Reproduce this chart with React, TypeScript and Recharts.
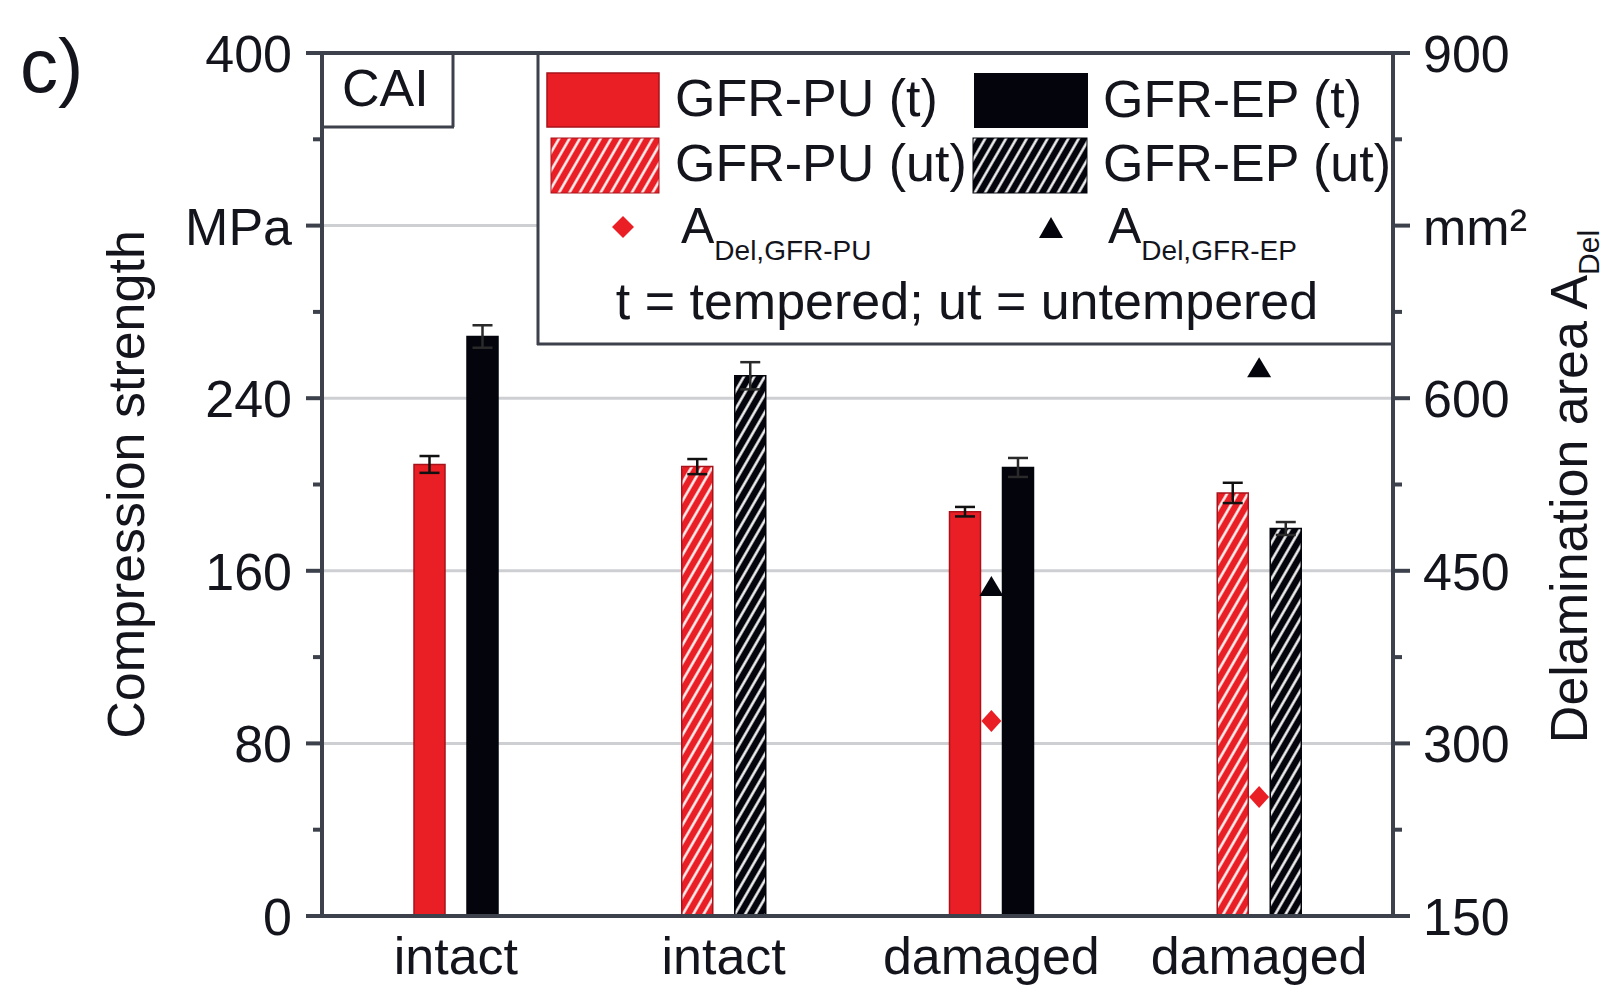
import React from 'react';
import { ComposedChart, Bar, Cell, ErrorBar, Scatter, XAxis, YAxis, CartesianGrid, ReferenceLine } from 'recharts';

// groups along the x axis
const groupKeys = ['g1', 'g2', 'g3', 'g4'];
const groupLabels = ['intact', 'intact', 'damaged', 'damaged'];
const tempered = [true, false, true, false];

// compression strength in MPa (left axis)
const puStrength = [209.3, 208.3, 187.4, 196.1];
const puStrengthErr = [3.9, 3.5, 2.2, 4.7];
const epStrength = [268.6, 250.4, 207.9, 179.6];
const epStrengthErr = [5.2, 6.3, 4.4, 3.0];

// delamination area in mm² (right axis), only for damaged samples
const puDelamination = [null, null, 319.5, 253.5];
const epDelamination = [null, null, 436, 626];

const leftTicks = [0, 40, 80, 120, 160, 200, 240, 280, 320, 360, 400];
const rightTicks = [150, 225, 300, 375, 450, 525, 600, 675, 750, 825, 900];
const gridValues = [80, 160, 240, 320];

const FONT = '"Liberation Sans", Arial, Helvetica, sans-serif';
const INK = '#13141c';
const AXIS = '#3c414b';
const RED = '#ea1f26';
const RED_EDGE = '#a8121a';
const BLACK = '#03040c';

const data = groupKeys.map((key, i) => ({
  key,
  pu: puStrength[i],
  puErr: puStrengthErr[i],
  ep: epStrength[i],
  epErr: epStrengthErr[i],
}));

const puAreaData = groupKeys
  .map((key, i) => ({ key, area: puDelamination[i] }))
  .filter((d) => d.area !== null);
const epAreaData = groupKeys
  .map((key, i) => ({ key, area: epDelamination[i] }))
  .filter((d) => d.area !== null);

const Hatch = ({ id, base }: { id: string; base: string }) => (
  <pattern id={id} patternUnits="userSpaceOnUse" width={9} height={9} patternTransform="rotate(30)">
    <rect width={9} height={9} fill={base} />
    <line x1={4.5} y1={0} x2={4.5} y2={9} stroke="#ffffff" strokeWidth={2.4} />
  </pattern>
);

const LeftTick = (props: any) => {
  const { x, y, payload } = props;
  const v = payload.value;
  const major = v % 80 === 0;
  return (
    <g>
      <line x1={x} x2={x - (major ? 16 : 9)} y1={y} y2={y} stroke={AXIS} strokeWidth={4} />
      {major && (
        <text x={x - 30} y={y} dy={19} textAnchor="end" fontSize={52} fontFamily={FONT} fill={INK}>
          {v === 320 ? 'MPa' : String(v)}
        </text>
      )}
    </g>
  );
};

const RightTick = (props: any) => {
  const { x, y, payload } = props;
  const v = payload.value;
  const major = v % 150 === 0;
  return (
    <g>
      <line x1={x} x2={x + (major ? 17 : 9)} y1={y} y2={y} stroke={AXIS} strokeWidth={4} />
      {major && (
        <text x={x + 30} y={y} dy={19} textAnchor="start" fontSize={52} fontFamily={FONT} fill={INK}>
          {v === 750 ? 'mm²' : String(v)}
        </text>
      )}
    </g>
  );
};

const BottomTick = (props: any) => {
  const { x, y, payload, index } = props;
  return (
    <text x={x} y={y + 58} textAnchor="middle" fontSize={52} fontFamily={FONT} fill={INK}>
      {groupLabels[index] ?? payload.value}
    </text>
  );
};

const LeftTitle = (props: any) => {
  const vb = props.viewBox;
  const cx = vb.x + 144;
  const cy = vb.y + vb.height / 2;
  return (
    <text x={cx} y={cy} transform={`rotate(-90, ${cx}, ${cy})`} textAnchor="middle" fontSize={52} fontFamily={FONT} fill={INK}>
      Compression strength
    </text>
  );
};

const RightTitle = (props: any) => {
  const vb = props.viewBox;
  const cx = vb.x + 194;
  const cy = vb.y + vb.height / 2 + 2;
  return (
    <text x={cx} y={cy} transform={`rotate(-90, ${cx}, ${cy})`} textAnchor="middle" fontSize={52} fontFamily={FONT} fill={INK}>
      <tspan>Delamination area A</tspan>
      <tspan fontSize={30} dy={12}>Del</tspan>
    </text>
  );
};

const Diamond = (props: any) => {
  const { cx, cy } = props;
  if (cx == null || cy == null) return null;
  return <polygon points={`${cx},${cy - 11} ${cx + 10},${cy} ${cx},${cy + 11} ${cx - 10},${cy}`} fill={RED} />;
};

const Triangle = (props: any) => {
  const { cx, cy } = props;
  if (cx == null || cy == null) return null;
  return <polygon points={`${cx},${cy - 11} ${cx + 12},${cy + 9} ${cx - 12},${cy + 9}`} fill={BLACK} />;
};

const txt = { fontFamily: FONT, fill: INK } as const;

const Overlay = () => (
  <svg width={1605} height={987} style={{ position: 'absolute', left: 0, top: 0, pointerEvents: 'none' }}>
    <defs>
      <Hatch id="lg-hatch-red" base={RED} />
      <Hatch id="lg-hatch-black" base={BLACK} />
    </defs>
    <text x={20} y={92} fontSize={76} {...txt}>c)</text>

    {/* CAI box */}
    <line x1={453} y1={53} x2={453} y2={127} stroke={AXIS} strokeWidth={3} />
    <line x1={322} y1={127} x2={454} y2={127} stroke={AXIS} strokeWidth={3} />
    <text x={342} y={106} fontSize={52} {...txt}>CAI</text>

    {/* legend box */}
    <rect x={538} y={55} width={853} height={289} fill="#ffffff" />
    <line x1={538} y1={53} x2={538} y2={345} stroke={AXIS} strokeWidth={3} />
    <line x1={537} y1={344} x2={1393} y2={344} stroke={AXIS} strokeWidth={3} />

    <rect x={547} y={73} width={112} height={54} fill={RED} stroke={RED_EDGE} strokeWidth={1.5} />
    <text x={675} y={116} fontSize={52} {...txt}>GFR-PU (t)</text>
    <rect x={974} y={73} width={114} height={55} fill={BLACK} />
    <text x={1103} y={117} fontSize={52} {...txt}>GFR-EP (t)</text>

    <rect x={551} y={138} width={108} height={55} fill="url(#lg-hatch-red)" stroke={RED_EDGE} strokeWidth={1} />
    <text x={675} y={181} fontSize={52} {...txt}>GFR-PU (ut)</text>
    <rect x={973} y={138} width={114} height={55} fill="url(#lg-hatch-black)" stroke={BLACK} strokeWidth={1} />
    <text x={1103} y={181} fontSize={52} {...txt}>GFR-EP (ut)</text>

    <polygon points="623,216 634,227 623,238 612,227" fill={RED} />
    <text x={681} y={243} fontSize={50} {...txt}>
      A<tspan fontSize={28} dy={17}>Del,GFR-PU</tspan>
    </text>
    <polygon points="1051,217 1063,238 1039,238" fill={BLACK} />
    <text x={1108} y={243} fontSize={50} {...txt}>
      A<tspan fontSize={28} dy={17}>Del,GFR-EP</tspan>
    </text>

    <text x={967} y={319} textAnchor="middle" fontSize={52} {...txt}>t = tempered; ut = untempered</text>
  </svg>
);

export default function App() {
  return (
    <div style={{ position: 'absolute', left: 0, top: 0, width: 1605, height: 987, background: '#ffffff' }}>
      <ComposedChart
        width={1605}
        height={987}
        data={data}
        margin={{ top: 53, right: 0, bottom: 0, left: 0 }}
        barSize={31}
        barGap={22}
      >
        <defs>
          <Hatch id="hatch-red" base={RED} />
          <Hatch id="hatch-black" base={BLACK} />
        </defs>
        <CartesianGrid
          yAxisId="left"
          vertical={false}
          stroke="#cdcfd3"
          strokeWidth={3}
          horizontalValues={gridValues}
        />
        <XAxis
          dataKey="key"
          allowDuplicatedCategory={false}
          height={71}
          tickSize={0}
          tickMargin={0}
          tickLine={false}
          tick={<BottomTick />}
          axisLine={{ stroke: AXIS, strokeWidth: 4 }}
          interval={0}
        />
        <YAxis
          yAxisId="left"
          domain={[0, 400]}
          ticks={leftTicks}
          width={322}
          tickSize={0}
          tickMargin={0}
          tickLine={false}
          tick={<LeftTick />}
          axisLine={{ stroke: AXIS, strokeWidth: 4 }}
          interval={0}
          label={<LeftTitle />}
        />
        <YAxis
          yAxisId="right"
          orientation="right"
          domain={[150, 900]}
          ticks={rightTicks}
          width={212}
          tickSize={0}
          tickMargin={0}
          tickLine={false}
          tick={<RightTick />}
          axisLine={{ stroke: AXIS, strokeWidth: 4 }}
          interval={0}
          label={<RightTitle />}
        />
        <ReferenceLine yAxisId="left" y={400} stroke={AXIS} strokeWidth={4} />
        <Bar yAxisId="left" dataKey="pu" isAnimationActive={false}>
          {data.map((_, i) => (
            <Cell
              key={`pu-${i}`}
              fill={tempered[i] ? RED : 'url(#hatch-red)'}
              stroke={RED_EDGE}
              strokeWidth={1.5}
            />
          ))}
          <ErrorBar dataKey="puErr" width={10} stroke="#111111" strokeWidth={2.5} direction="y" />
        </Bar>
        <Bar yAxisId="left" dataKey="ep" isAnimationActive={false}>
          {data.map((_, i) => (
            <Cell
              key={`ep-${i}`}
              fill={tempered[i] ? BLACK : 'url(#hatch-black)'}
              stroke={BLACK}
              strokeWidth={1.5}
            />
          ))}
          <ErrorBar dataKey="epErr" width={10} stroke="#2a2a2a" strokeWidth={2.5} direction="y" />
        </Bar>
        <Scatter yAxisId="right" data={puAreaData} dataKey="area" shape={<Diamond />} isAnimationActive={false} />
        <Scatter yAxisId="right" data={epAreaData} dataKey="area" shape={<Triangle />} isAnimationActive={false} />
      </ComposedChart>
      <Overlay />
    </div>
  );
}
